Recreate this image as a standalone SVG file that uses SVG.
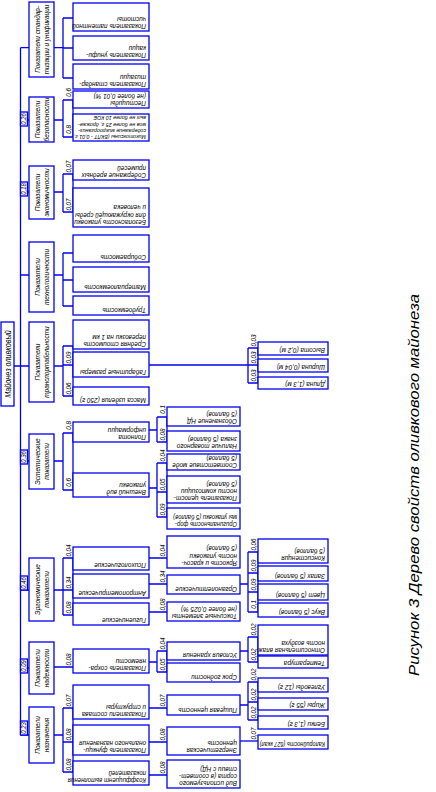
<svg xmlns="http://www.w3.org/2000/svg" width="436" height="792" viewBox="0 0 436 792">
<style>
.b{fill:#fff;stroke:#0000f0;stroke-width:1.3}
.c{fill:none;stroke:#0000f0;stroke-width:1.3}
text{font-family:"Liberation Sans","DejaVu Sans",sans-serif;font-style:italic;fill:#000}
.t{font-size:7.1px}
.s{font-size:5.9px}
.k{font-size:7.6px;text-anchor:middle}
.w{font-size:7px;text-anchor:middle}
.v{font-size:6.5px;text-anchor:middle}
.r{font-size:8.2px;text-anchor:middle}
.cap{font-size:14px;text-anchor:middle}
</style>
<rect width="436" height="792" fill="#fff"/>
<g id="connectors" class="c">
<path d="M20.5 47.7V735M14 366H29M20.5 47.7H29M20.5 120H29M20.5 192H29M20.5 275H29M20.5 461H29M20.5 590H29M20.5 668H29M20.5 735H29"/>
<path d="M54 47.7H63M54 120H63M54 192H63M54 275H63M54 366H63M54 461H63M54 590H63M54 667H73M54 735H63"/>
<path d="M63 18V78M63 100V137M63 174V212M63 253V306M63 346V396M63 433V490M63 558V615M63 708V772"/>
<path d="M63 18H73M63 48H73M63 78H73M63 100H73M63 137H73M63 174H73M63 212H73M63 253H73M63 280H73M63 306H73M63 346H73M63 365H73M63 396H73M63 433H73M63 490H73M63 558H73M63 590H73M63 615H73M63 708H73M63 742H73M63 772H73"/>
<path d="M73 100V137M73 174V212M73 346V396M73 433V490M73 558V615M73 708V772"/>
<path d="M149 430H157M157 417V442M157 417H167M157 442H167M167 417V442"/>
<path d="M149 488H157M157 463V517M157 463H167M157 492H167M157 517H167M167 463V517"/>
<path d="M149 558H167M149 584H167M149 612H167M149 708H167M149 742H167M149 775H167"/>
<path d="M149 662H157M157 651V672M157 651H167M157 672H167M167 651V672"/>
<path d="M149 365H258M248 348V383M248 348H258M248 383H258M258 348V383"/>
<path d="M240 584H248M248 552V612M248 552H258M248 573H258M248 592H258M248 612H258M258 552V612"/>
<path d="M240 651H248M248 637V662M248 637H258M248 662H258M258 637V662"/>
<path d="M240 705H248M248 682V720M248 682H258M248 702H258M248 720H258M258 682V720"/>
<path d="M240 741H258"/>
</g>
<g id="weights">
<rect class="b" x="20.5" y="112" width="7" height="14"/><text class="v" transform="translate(26.3 119) rotate(-90) scale(.9 1)">0,26</text>
<rect class="b" x="20.5" y="182" width="7" height="14"/><text class="v" transform="translate(26.3 189) rotate(-90) scale(.9 1)">0,18</text>
<rect class="b" x="20.5" y="450" width="7" height="14"/><text class="v" transform="translate(26.3 457) rotate(-90) scale(.9 1)">0,36</text>
<rect class="b" x="20.5" y="576" width="7" height="14"/><text class="v" transform="translate(26.3 583) rotate(-90) scale(.9 1)">0,46</text>
<rect class="b" x="20.5" y="659" width="7" height="14"/><text class="v" transform="translate(26.3 666) rotate(-90) scale(.9 1)">0,09</text>
<rect class="b" x="20.5" y="721" width="7" height="14"/><text class="v" transform="translate(26.3 728) rotate(-90) scale(.9 1)">0,23</text>
<text class="w" transform="translate(70.8 92.5) rotate(-90) scale(.9 1)">0,6</text>
<text class="w" transform="translate(70.8 129.5) rotate(-90) scale(.9 1)">0,8</text>
<text class="w" transform="translate(70.8 166.5) rotate(-90) scale(.9 1)">0,07</text>
<text class="w" transform="translate(70.8 204.5) rotate(-90) scale(.9 1)">0,07</text>
<text class="w" transform="translate(70.8 357.5) rotate(-90) scale(.9 1)">0,09</text>
<text class="w" transform="translate(70.8 388.5) rotate(-90) scale(.9 1)">0,06</text>
<text class="w" transform="translate(70.8 425.5) rotate(-90) scale(.9 1)">0,8</text>
<text class="w" transform="translate(70.8 482.5) rotate(-90) scale(.9 1)">0,6</text>
<text class="w" transform="translate(70.8 550.5) rotate(-90) scale(.9 1)">0,04</text>
<text class="w" transform="translate(70.8 582.5) rotate(-90) scale(.9 1)">0,34</text>
<text class="w" transform="translate(70.8 607.5) rotate(-90) scale(.9 1)">0,08</text>
<text class="w" transform="translate(70.8 659.5) rotate(-90) scale(.9 1)">0,08</text>
<text class="w" transform="translate(70.8 700.5) rotate(-90) scale(.9 1)">0,07</text>
<text class="w" transform="translate(70.8 734.5) rotate(-90) scale(.9 1)">0,08</text>
<text class="w" transform="translate(70.8 764.5) rotate(-90) scale(.9 1)">0,08</text>
<text class="w" transform="translate(164.8 409.5) rotate(-90) scale(.9 1)">0,1</text>
<text class="w" transform="translate(164.8 434.5) rotate(-90) scale(.9 1)">0,08</text>
<text class="w" transform="translate(164.8 455.5) rotate(-90) scale(.9 1)">0,04</text>
<text class="w" transform="translate(164.8 484.5) rotate(-90) scale(.9 1)">0,05</text>
<text class="w" transform="translate(164.8 509.5) rotate(-90) scale(.9 1)">0,09</text>
<text class="w" transform="translate(164.8 550.5) rotate(-90) scale(.9 1)">0,04</text>
<text class="w" transform="translate(164.8 576.5) rotate(-90) scale(.9 1)">0,34</text>
<text class="w" transform="translate(164.8 604.5) rotate(-90) scale(.9 1)">0,08</text>
<text class="w" transform="translate(164.8 643.5) rotate(-90) scale(.9 1)">0,04</text>
<text class="w" transform="translate(164.8 664.5) rotate(-90) scale(.9 1)">0,05</text>
<text class="w" transform="translate(164.8 700.5) rotate(-90) scale(.9 1)">0,07</text>
<text class="w" transform="translate(164.8 734.5) rotate(-90) scale(.9 1)">0,08</text>
<text class="w" transform="translate(164.8 767.5) rotate(-90) scale(.9 1)">0,08</text>
<text class="w" transform="translate(255.8 340.5) rotate(-90) scale(.9 1)">0,03</text>
<text class="w" transform="translate(255.8 357.5) rotate(-90) scale(.9 1)">0,03</text>
<text class="w" transform="translate(255.8 375.5) rotate(-90) scale(.9 1)">0,03</text>
<text class="w" transform="translate(255.8 544.5) rotate(-90) scale(.9 1)">0,06</text>
<text class="w" transform="translate(255.8 565.5) rotate(-90) scale(.9 1)">0,09</text>
<text class="w" transform="translate(255.8 584.5) rotate(-90) scale(.9 1)">0,09</text>
<text class="w" transform="translate(255.8 604.5) rotate(-90) scale(.9 1)">0,1</text>
<text class="w" transform="translate(255.8 629.5) rotate(-90) scale(.9 1)">0,02</text>
<text class="w" transform="translate(255.8 654.5) rotate(-90) scale(.9 1)">0,02</text>
<text class="w" transform="translate(255.8 674.5) rotate(-90) scale(.9 1)">0,02</text>
<text class="w" transform="translate(255.8 694.5) rotate(-90) scale(.9 1)">0,02</text>
<text class="w" transform="translate(255.8 712.5) rotate(-90) scale(.9 1)">0,02</text>
<text class="w" transform="translate(255.8 733.5) rotate(-90) scale(.9 1)">0,07</text>
</g>
<g id="root"><rect class="b" x="1" y="322" width="13" height="84"/><text class="r" transform="translate(10.6 364) rotate(-90) scale(.88 1)">Майонез оливковый</text></g>
<g id="C1"><rect class="b" x="29" y="2" width="25" height="75"/><text class="k" transform="translate(41.5 39.5) rotate(-90) scale(.84 1)"><tspan x="0" y="-1.5">Показатели стандар-</tspan><tspan x="0" y="7.6">тизации и унификации</tspan></text></g>
<g id="C2"><rect class="b" x="29" y="97" width="25" height="45"/><text class="k" transform="translate(41.5 119.5) rotate(-90) scale(.86 1)"><tspan x="0" y="-1.5">Показатели</tspan><tspan x="0" y="7.6">безопасности</tspan></text></g>
<g id="C3"><rect class="b" x="29" y="166" width="25" height="53"/><text class="k" transform="translate(41.5 192.5) rotate(-90) scale(.86 1)"><tspan x="0" y="-1.5">Показатели</tspan><tspan x="0" y="7.6">экономичности</tspan></text></g>
<g id="C4"><rect class="b" x="29" y="242" width="25" height="70"/><text class="k" transform="translate(41.5 277) rotate(-90) scale(.86 1)"><tspan x="0" y="-1.5">Показатели</tspan><tspan x="0" y="7.6">технологичности</tspan></text></g>
<g id="C5"><rect class="b" x="29" y="322" width="25" height="80"/><text class="k" transform="translate(41.5 362) rotate(-90) scale(.84 1)"><tspan x="0" y="-1.5">Показатели</tspan><tspan x="0" y="7.6">транспортабельности</tspan></text></g>
<g id="C6"><rect class="b" x="29" y="434" width="25" height="55"/><text class="k" transform="translate(41.5 461.5) rotate(-90) scale(.86 1)"><tspan x="0" y="-1.5">Эстетические</tspan><tspan x="0" y="7.6">показатели</tspan></text></g>
<g id="C7"><rect class="b" x="29" y="558" width="25" height="63"/><text class="k" transform="translate(41.5 589.5) rotate(-90) scale(.86 1)"><tspan x="0" y="-1.5">Эргономические</tspan><tspan x="0" y="7.6">показатели</tspan></text></g>
<g id="C8"><rect class="b" x="29" y="642" width="25" height="52"/><text class="k" transform="translate(41.5 668) rotate(-90) scale(.86 1)"><tspan x="0" y="-1.5">Показатели</tspan><tspan x="0" y="7.6">надежности</tspan></text></g>
<g id="C9"><rect class="b" x="29" y="707" width="25" height="56"/><text class="k" transform="translate(41.5 735) rotate(-90) scale(.86 1)"><tspan x="0" y="-1.5">Показатели</tspan><tspan x="0" y="7.6">назначения</tspan></text></g>
<g id="L1a"><rect class="b" x="73" y="3" width="76" height="28"/><text class="t" transform="translate(146 24) rotate(180) scale(.9 1)"><tspan x="0">Показатель патентной</tspan><tspan x="0" dy="7.3">чистоты</tspan></text></g>
<g id="L1b"><rect class="b" x="73" y="36" width="76" height="24"/><text class="t" transform="translate(146 53) rotate(180) scale(.9 1)"><tspan x="0">Показатель унифи-</tspan><tspan x="0" dy="7.3">кации</tspan></text></g>
<g id="L1c"><rect class="b" x="73" y="64" width="76" height="25"/><text class="t" transform="translate(146 82) rotate(180) scale(.9 1)"><tspan x="0">Показатель стандар-</tspan><tspan x="0" dy="7.3">тизации</tspan></text></g>
<g id="L2a"><rect class="b" x="73" y="91" width="76" height="17"/><text class="t" transform="translate(146 101) rotate(180) scale(.9 1)"><tspan x="0">Пестициды</tspan><tspan x="0" dy="7">(не более 0,01 %)</tspan></text></g>
<g id="L2b"><rect class="b" x="73" y="114" width="76" height="27"/><text class="s" transform="translate(146 135) rotate(180) scale(.9 1)"><tspan x="0">Микотоксины (БКЛТ - 0,01 г,</tspan><tspan x="0" dy="6.2">содержание микроорганиз-</tspan><tspan x="0" dy="6.2">мов не более 25 г, дрожже-</tspan><tspan x="0" dy="6.2">вых не более 10 КОЕ</tspan></text></g>
<g id="L3a"><rect class="b" x="73" y="160" width="76" height="20"/><text class="t" transform="translate(146 173) rotate(180) scale(.9 1)"><tspan x="0">Содержание вредных</tspan><tspan x="0" dy="7">примесей</tspan></text></g>
<g id="L3b"><rect class="b" x="73" y="188" width="76" height="39"/><text class="t" transform="translate(146 220) rotate(180) scale(.9 1)"><tspan x="0">Безопасность упаковки</tspan><tspan x="0" dy="7.3">для окружающей среды</tspan><tspan x="0" dy="7.3">и человека</tspan></text></g>
<g id="L4a"><rect class="b" x="73" y="235" width="76" height="27"/><text class="t" transform="translate(146 255) rotate(180) scale(.9 1)">Собираемость</text></g>
<g id="L4b"><rect class="b" x="73" y="267" width="76" height="25"/><text class="t" transform="translate(146 285) rotate(180) scale(.9 1)">Материалоемкость</text></g>
<g id="L4c"><rect class="b" x="73" y="296" width="76" height="19"/><text class="t" transform="translate(146 308) rotate(180) scale(.9 1)">Трудоемкость</text></g>
<g id="L5a"><rect class="b" x="73" y="320" width="76" height="29"/><text class="t" transform="translate(146 342) rotate(180) scale(.9 1)"><tspan x="0">Средняя стоимость</tspan><tspan x="0" dy="7.3">перевозки на 1 км</tspan></text></g>
<g id="L5b"><rect class="b" x="73" y="352" width="76" height="25"/><text class="t" transform="translate(146 370) rotate(180) scale(.9 1)">Габаритные размеры</text></g>
<g id="L5c"><rect class="b" x="73" y="387" width="76" height="18"/><text class="t" transform="translate(146 398) rotate(180) scale(.9 1)">Масса изделия (250 г)</text></g>
<g id="L6a"><rect class="b" x="73" y="422" width="76" height="20"/><text class="t" transform="translate(146 435) rotate(180) scale(.9 1)"><tspan x="0">Полнота</tspan><tspan x="0" dy="7">информации</tspan></text></g>
<g id="L6b"><rect class="b" x="73" y="473" width="76" height="24"/><text class="t" transform="translate(146 490) rotate(180) scale(.9 1)"><tspan x="0">Внешний вид</tspan><tspan x="0" dy="7.3">упаковки</tspan></text></g>
<g id="L7a"><rect class="b" x="73" y="547" width="76" height="23"/><text class="t" transform="translate(146 563) rotate(180) scale(.9 1)">Психологические</text></g>
<g id="L7b"><rect class="b" x="73" y="574" width="76" height="24"/><text class="t" transform="translate(146 591) rotate(180) scale(.9 1)">Антропометрические</text></g>
<g id="L7c"><rect class="b" x="73" y="603" width="76" height="22"/><text class="t" transform="translate(146 618) rotate(180) scale(.9 1)">Гигиенические</text></g>
<g id="L8"><rect class="b" x="73" y="649" width="76" height="24"/><text class="t" transform="translate(146 666) rotate(180) scale(.9 1)"><tspan x="0">Показатель сохра-</tspan><tspan x="0" dy="7.3">няемости</tspan></text></g>
<g id="L9a"><rect class="b" x="73" y="685" width="76" height="34"/><text class="t" transform="translate(146 712) rotate(180) scale(.9 1)"><tspan x="0">Показатели состава</tspan><tspan x="0" dy="7.3">и структуры</tspan></text></g>
<g id="L9b"><rect class="b" x="73" y="725" width="76" height="30"/><text class="t" transform="translate(146 748) rotate(180) scale(.9 1)"><tspan x="0">Показатель функци-</tspan><tspan x="0" dy="7.3">онального назначения</tspan></text></g>
<g id="L9c"><rect class="b" x="73" y="761" width="76" height="24"/><text class="t" transform="translate(146 778) rotate(180) scale(.86 1)"><tspan x="0">Коэффициент выполнения</tspan><tspan x="0" dy="7.3">показателей</tspan></text></g>
<g id="E1"><rect class="b" x="167" y="407" width="73" height="19"/><text class="t" transform="translate(237 419) rotate(180) scale(.9 1)"><tspan x="0">Обозначение НД</tspan><tspan x="0" dy="7">(5 баллов)</tspan></text></g>
<g id="E2"><rect class="b" x="167" y="431" width="73" height="20"/><text class="t" transform="translate(237 444) rotate(180) scale(.9 1)"><tspan x="0">Наличие товарного</tspan><tspan x="0" dy="7">знака (5 баллов)</tspan></text></g>
<g id="E3"><rect class="b" x="167" y="454" width="73" height="16"/><text class="t" transform="translate(237 463) rotate(180) scale(.9 1)"><tspan x="0">Соответствие моде</tspan><tspan x="0" dy="6.8">(5 баллов)</tspan></text></g>
<g id="E4"><rect class="b" x="167" y="476" width="73" height="27"/><text class="t" transform="translate(237 496) rotate(180) scale(.9 1)"><tspan x="0">Показатель целост-</tspan><tspan x="0" dy="6.9">ности композиции</tspan><tspan x="0" dy="6.9">(5 баллов)</tspan></text></g>
<g id="E5"><rect class="b" x="167" y="508" width="73" height="21"/><text class="t" transform="translate(237 522) rotate(180) scale(.82 1)"><tspan x="0">Оригинальность фор-</tspan><tspan x="0" dy="7">мы упаковки (5 баллов)</tspan></text></g>
<g id="E6"><rect class="b" x="167" y="536" width="73" height="32"/><text class="t" transform="translate(237 561) rotate(180) scale(.9 1)"><tspan x="0">Яркость и красоч-</tspan><tspan x="0" dy="7.3">ность упаковки</tspan><tspan x="0" dy="7.3">(5 баллов)</tspan></text></g>
<g id="E7"><rect class="b" x="167" y="575" width="73" height="19"/><text class="t" transform="translate(237 587) rotate(180) scale(.9 1)">Органолептические</text></g>
<g id="E8"><rect class="b" x="167" y="602" width="73" height="19"/><text class="t" transform="translate(237 614) rotate(180) scale(.9 1)"><tspan x="0">Токсичные элементы</tspan><tspan x="0" dy="7">(не более 0,025 %)</tspan></text></g>
<g id="E9"><rect class="b" x="167" y="642" width="73" height="18"/><text class="t" transform="translate(237 653) rotate(180) scale(.9 1)">Условия хранения</text></g>
<g id="E10"><rect class="b" x="167" y="663" width="73" height="19"/><text class="t" transform="translate(237 675) rotate(180) scale(.9 1)">Срок годности</text></g>
<g id="E11"><rect class="b" x="167" y="695" width="73" height="20"/><text class="t" transform="translate(237 708) rotate(180) scale(.9 1)">Пищевая ценность</text></g>
<g id="E12"><rect class="b" x="167" y="727" width="73" height="28"/><text class="t" transform="translate(237 748) rotate(180) scale(.9 1)"><tspan x="0">Энергетическая</tspan><tspan x="0" dy="7.3">ценность</tspan></text></g>
<g id="E13"><rect class="b" x="167" y="760" width="73" height="28"/><text class="t" transform="translate(237 781) rotate(180) scale(.9 1)"><tspan x="0">Вид используемого</tspan><tspan x="0" dy="7">сорта (в соответ-</tspan><tspan x="0" dy="7">ствии с НД)</tspan></text></g>
<g id="D1"><rect class="b" x="258" y="342" width="70" height="13"/><text class="t" transform="translate(325 348) rotate(180) scale(.9 1)">Высота (0,2 м)</text></g>
<g id="D2"><rect class="b" x="258" y="359" width="70" height="13"/><text class="t" transform="translate(325 365) rotate(180) scale(.9 1)">Ширина (0,04 м)</text></g>
<g id="D3"><rect class="b" x="258" y="377" width="70" height="12"/><text class="t" transform="translate(325 382) rotate(180) scale(.9 1)">Длина (1,3 м)</text></g>
<g id="F1"><rect class="b" x="258" y="539" width="70" height="24"/><text class="t" transform="translate(325 556) rotate(180) scale(.9 1)"><tspan x="0">Консистенция</tspan><tspan x="0" dy="7.3">(5 баллов)</tspan></text></g>
<g id="F2"><rect class="b" x="258" y="566" width="70" height="15"/><text class="t" transform="translate(325 574) rotate(180) scale(.9 1)">Запах (5 баллов)</text></g>
<g id="F3"><rect class="b" x="258" y="584" width="70" height="16"/><text class="t" transform="translate(325 593) rotate(180) scale(.9 1)">Цвет (5 баллов)</text></g>
<g id="F4"><rect class="b" x="258" y="603" width="70" height="14"/><text class="t" transform="translate(325 610) rotate(180) scale(.9 1)">Вкус (5 баллов)</text></g>
<g id="F5"><rect class="b" x="258" y="625" width="70" height="30"/><text class="t" transform="translate(325 648) rotate(180) scale(.9 1)"><tspan x="0">Относительная влаж-</tspan><tspan x="0" dy="7.3">ность воздуха</tspan></text></g>
<g id="F6"><rect class="b" x="258" y="656" width="70" height="12"/><text class="t" transform="translate(325 661) rotate(180) scale(.9 1)">Температура</text></g>
<g id="F7"><rect class="b" x="258" y="678" width="70" height="14"/><text class="t" transform="translate(325 685) rotate(180) scale(.9 1)">Углеводы (12 г)</text></g>
<g id="F8"><rect class="b" x="258" y="698" width="70" height="12"/><text class="t" transform="translate(325 703) rotate(180) scale(.9 1)">Жиры (55 г)</text></g>
<g id="F9"><rect class="b" x="258" y="716" width="70" height="13"/><text class="t" transform="translate(325 722) rotate(180) scale(.9 1)">Белки (1,3 г)</text></g>
<g id="F10"><rect class="b" x="258" y="735" width="70" height="14"/><text class="t" transform="translate(325 742) rotate(180) scale(.78 1)">Калорийность (627 ккал)</text></g>
<text class="cap" transform="translate(419 485) rotate(-90)" textLength="382" lengthAdjust="spacingAndGlyphs">Рисунок 3 Дерево свойств оливкового майонеза</text>
</svg>
